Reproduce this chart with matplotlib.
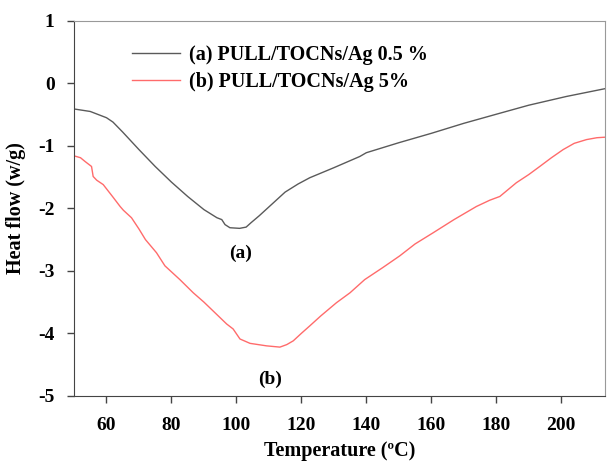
import matplotlib
matplotlib.use("Agg")
import matplotlib.pyplot as plt

plt.rcParams['font.family'] = ['Liberation Serif', 'DejaVu Serif']
plt.rcParams['font.weight'] = 'bold'
plt.rcParams['axes.unicode_minus'] = False

# DSC curves
temp_a = [50, 55, 60, 62, 65, 70, 75, 80, 85, 90, 94, 95.5, 96.5, 98, 101, 103, 104.5,
          107, 111, 115, 119, 122.6, 130, 138, 140, 150, 160, 170, 181, 190, 201.6, 214]
flow_a = [-0.41, -0.45, -0.55, -0.62, -0.78, -1.06, -1.33, -1.58, -1.81, -2.02, -2.15, -2.18,
          -2.26, -2.31, -2.32, -2.30, -2.23, -2.12, -1.93, -1.74, -1.61, -1.51, -1.35, -1.17,
          -1.11, -0.95, -0.80, -0.64, -0.48, -0.35, -0.21, -0.08]

temp_b = [50, 52, 53.4, 55.4, 55.9, 57, 59, 62, 64.2, 65.2, 67.7, 70, 72, 75.4, 78, 82.6,
          86.7, 90, 94, 97, 99, 101.1, 104.2, 109.3, 113.4, 115.5, 117.5, 120, 122.6, 126,
          130.8, 135, 139.5, 145, 150.3, 155, 160.6, 167, 173.9, 178, 181.1, 186.2, 190,
          193.4, 197, 200.6, 204, 207.8, 211, 214]
flow_b = [-1.16, -1.19, -1.25, -1.33, -1.49, -1.55, -1.62, -1.82, -1.97, -2.03, -2.15, -2.33,
          -2.50, -2.71, -2.92, -3.14, -3.35, -3.50, -3.70, -3.85, -3.93, -4.09, -4.16, -4.20,
          -4.22, -4.18, -4.12, -4.00, -3.88, -3.72, -3.51, -3.35, -3.14, -2.95, -2.76, -2.57,
          -2.39, -2.18, -1.97, -1.87, -1.81, -1.59, -1.46, -1.33, -1.19, -1.06, -0.96, -0.90,
          -0.87, -0.86]

label_a = '(a) PULL/TOCNs/Ag 0.5 %'
label_b = '(b) PULL/TOCNs/Ag 5%'

fig = plt.figure(figsize=(6.09, 4.63), dpi=100)
ax = fig.add_axes([0.1215, 0.145, 0.872, 0.81])

ax.plot(temp_a, flow_a, color='#5a5a5a', lw=1.0, label=label_a)
ax.plot(temp_b, flow_b, color='#ff6b6b', lw=1.0, label=label_b)

ax.text(101.4, -2.72, '(a)', fontsize=14, fontweight='bold', ha='center', va='center')
ax.text(110.3, -4.74, '(b)', fontsize=14, fontweight='bold', ha='center', va='center')

ax.set_xlim(50, 213.5)
ax.set_ylim(-5, 1)
ax.set_xticks(range(60, 201, 20))
ax.set_yticks(range(-5, 2))
ax.tick_params(axis='both', direction='out', length=5, width=1, labelsize=14, color='#444444')
ax.tick_params(axis='x', pad=10)
ax.tick_params(axis='y', pad=9)
for lab in ax.get_xticklabels() + ax.get_yticklabels():
    lab.set_fontweight('bold')

ax.set_xlabel('Temperature (ºC)', fontsize=14.5, fontweight='bold', labelpad=5)
ax.set_ylabel('Heat flow (w/g)', fontsize=14.5, fontweight='bold', labelpad=9)

for side in ['left', 'bottom']:
    ax.spines[side].set_color('#444444')
for side in ['top', 'right']:
    ax.spines[side].set_color('#999999')

leg = ax.legend(loc='upper left', bbox_to_anchor=(0.075, 0.985), frameon=False,
                prop={'size': 14.5, 'weight': 'bold'}, handlelength=2.4,
                handletextpad=0.45, labelspacing=0.35)

fig.savefig('out.png', dpi=100)
